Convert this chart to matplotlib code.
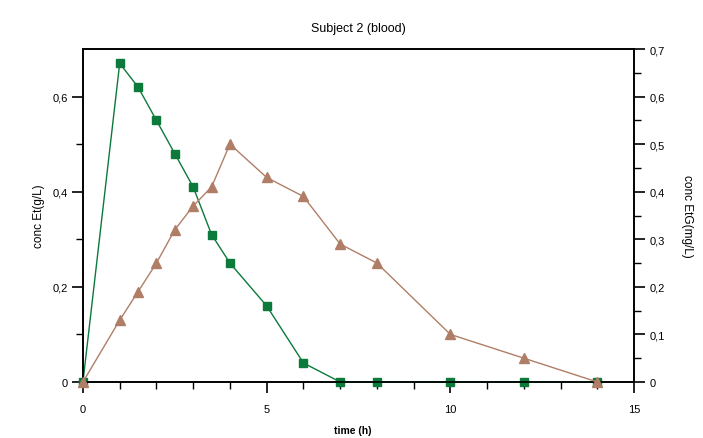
import matplotlib.pyplot as plt
from matplotlib.ticker import MultipleLocator, FixedLocator, FuncFormatter

plt.rcParams['font.family'] = ['Liberation Sans', 'DejaVu Sans']

time = [0, 1, 1.5, 2, 2.5, 3, 3.5, 4, 5, 6, 7, 8, 10, 12, 14]
et = [0, 0.67, 0.62, 0.55, 0.48, 0.41, 0.31, 0.25, 0.16, 0.04, 0, 0, 0, 0, 0]
etg = [0, 0.13, 0.19, 0.25, 0.32, 0.37, 0.41, 0.50, 0.43, 0.39, 0.29, 0.25, 0.10, 0.05, 0]

green = '#0b7a3b'
brown = '#b07e66'


def comma(v, pos):
    s = ('%.1f' % v).replace('.', ',')
    return '0' if abs(v) < 1e-9 else s


fig = plt.figure(figsize=(7.03, 4.39), dpi=100)
ax = fig.add_axes([0.118, 0.1276, 0.784, 0.7584])
ax2 = ax.twinx()

ax.plot(time, et, color=green, lw=1, marker='s', ms=6, clip_on=False, zorder=3)
ax2.plot(time, etg, color=brown, lw=1, marker='^', ms=7, clip_on=False, zorder=3)

ax.set_xlim(0, 15)
ax.set_ylim(0, 0.7)
ax2.set_ylim(0, 0.7)

ax.xaxis.set_major_locator(MultipleLocator(5))
ax.xaxis.set_minor_locator(MultipleLocator(1))
ax.yaxis.set_major_locator(FixedLocator([0, 0.2, 0.4, 0.6]))
ax.yaxis.set_minor_locator(FixedLocator([0.1, 0.3, 0.5]))
ax2.yaxis.set_major_locator(MultipleLocator(0.1))
ax2.yaxis.set_minor_locator(MultipleLocator(0.05))
ax.yaxis.set_major_formatter(FuncFormatter(comma))
ax2.yaxis.set_major_formatter(FuncFormatter(comma))

for a in (ax, ax2):
    a.tick_params(which='major', length=8, width=1.2, labelsize=8, direction='out', pad=3)
    a.tick_params(which='minor', length=5, width=1, direction='out')
    for s in a.spines.values():
        s.set_linewidth(1.2)
ax.tick_params(axis='x', which='major', length=8, pad=8)
ax.set_ylim(0, 0.7)

ax.set_title('Subject 2 (blood)', fontsize=9, pad=13)
ax.set_xlabel('time (h)', fontsize=7.5, fontweight='bold')
ax.xaxis.set_label_coords(0.49, -0.13)
ax.set_ylabel('conc Et(g/L)', fontsize=8.5)
ax.yaxis.set_label_coords(-0.068, 0.5)
ax2.set_ylabel('conc EtG(mg/L)', fontsize=8.5, rotation=270, va='bottom')
ax2.yaxis.set_label_coords(1.085, 0.5)

fig.savefig('out.png', dpi=100)
